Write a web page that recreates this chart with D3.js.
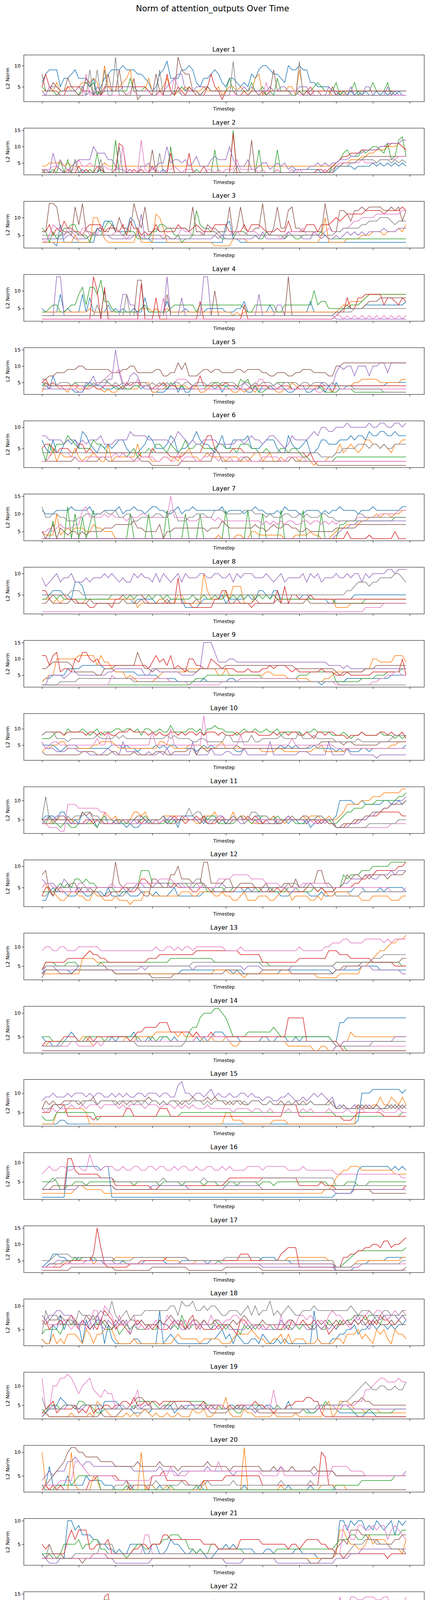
<!DOCTYPE html>
<html>
<head>
<meta charset="utf-8">
<script src="https://cdn.jsdelivr.net/npm/d3@7"></script>
<style>
body { margin: 0; background: #fff; }
text { font-family: "DejaVu Sans", sans-serif; }
</style>
</head>
<body>
<svg id="chart"></svg>
<script>
var width = 1089
var height = 4997

// each series: 100 readings, one hex digit per timestep (0-f = 0..15 L2 norm)
var colors = ["#1f77b4", "#ff7f0e", "#2ca02c", "#d62728", "#9467bd", "#8c564b", "#e377c2", "#7f7f7f"]
var xTicks = [0, 10, 20, 30, 40, 50, 60, 70, 80, 90, 100]
var yStep = [5,5,5,5,5,5,5,5,5,5,5,5,5,5,5,5,5,5,5,5,5,5,2.5,5,5,5]

var layer01 = [
"6899957789 7775735789 99a9998876 4589b77799 a965778986 5776565879 aa98876a99 a996655554 4343434343 3434343433",
"4444644544 5666763a54 4567944447 4445743445 4444544453 4554544478 3454444553 9445444443 3434444444 4444444444",
"5444344444 3565634444 4444744454 4444444454 5443454444 4744444644 5343744433 4444565444 6344463444 6444634444",
"5854433555 5444333555 5555555554 3343843543 5433358542 4443343444 4444444444 4343444444 4444444444 4444444444",
"4355544444 5534354444 4455554444 4444567884 4455554444 4444454544 4454455444 5553333354 3333533355 3333534333",
"8446544754 3476343484 4943372333 3844443c98 8443454444 4443333443 4349444444 4344443335 3444444444 4444444444",
"3333333333 3383333333 3333443333 3333337533 3333333333 3333333333 3633333344 3335333333 3333333333 3333333333",
"3333333333 3339393933 c333333333 3393334433 3333333333 33b3333333 3333333333 b333333333 3333333333 3333334444"]
var layer02 = [
"2222222222 2322223222 2222222222 2223222222 2222222222 2222222222 2222222223 3333332222 3444434444 5454545454",
"4455554544 4444444544 4444444444 4444444444 4444444444 4444444444 4444444444 4444444444 4455666778 8999aaaba9",
"2323262626 2223282222 c222222222 22222a2222 2232222922 22f2222229 2222922222 2222222224 5689777989 aa98b67cd7",
"3222432322 4232243222 3ba2232322 4222282222 8222422222 22e2222222 2222322222 2222233234 5677888999 99aaabbba9",
"3328432245 6666a88866 4332322445 3455a56656 4574446766 6a64446334 5534545343 3334454545 5666778899 99aabbbbcc",
"2222222222 2222224222 2222222222 9222222222 2222222222 2222222c22 2222222222 2222222322 4455556677 7777777777",
"3334464333 6445444433 33a3322c32 3322334323 3322233232 3336333332 3222322232 3222222323 4555555655 5566666777",
"2222222226 2222226222 2a22222222 2282222222 2222222222 2224222222 2222222222 2222222223 4444556666 6566656565"]
var layer03 = [
"3333283333 3333376999 6666a96444 3333333333 3333333333 8944333333 3333333333 3333333333 3333333333 3333333333",
"3333333335 3333aa7433 3333337333 3ba7333333 3333333222 2244443333 3333333333 3333335a33 3334444555 6665666768",
"7636457788 5553655798 6656664444 6688775534 45c8776654 4446665554 4655554554 4555556544 4444444444 4444444444",
"6685769776 6578888677 7685977565 6866666877 6787666888 8666686888 7666766966 6688868889 a9abbbbbcc cccbccccdc",
"4444444554 4445555554 4444455b44 4444444444 4444444545 4444444454 6444444655 5444654544 5456565656 6667666777",
"66eed7665d 8e66577668 6a776ea7d6 6766777777 6d66587766 6d57d76677 e657d77cd7 7666666e86 6ccb9ccdcd dddccdcd9c",
"4358775765 5775658555 6654555455 5555544576 6555677655 5566556665 5555545666 6755655676 6677899aaa abbbbbbbcc",
"5555555666 5545555555 5555555555 5554544555 5555555565 5555555555 5555555555 5555555555 6677777889 99aaa98999"]
var layer04 = [
"5444494544 4948444464 5454454484 4444744445 4444455555 4445574444 4464444444 4447444444 4455555566 6666666667",
"4444444444 4445444444 4444444555 4544544444 4444444444 4434344444 4444444444 4444444444 4566777789 9999999999",
"4456644566 9b6bb9d775 4444444564 4444456666 6646666666 6666654466 6666446666 6666a67755 5555666789 9999999999",
"2222222222 2222ea2b22 2222222c22 2822222222 2227222222 2222262222 2222222222 2222222222 3448558899 9996887687",
"3333ee3333 3333333333 3399663333 3333e33383 3333ee3333 3333333339 3333663333 3333333333 2222222222 2222222222",
"3333333333 3333333a33 333333dd33 3333933333 3333333a33 3333333333 3333333e33 3333333333 4456555567 7788888888",
"2222222222 2222222222 2222222222 2228222222 2222222222 2222222222 2222222222 2222222222 3323232323 2323232323",
"3333333333 3333363333 3339333333 3333333333 3333333333 3333333333 3333333333 3333333333 4444455555 5555555555"]
var layer05 = [
"4437443332 2245444333 4333344344 2222345242 2444444342 4443332242 4443343223 4422334242 5334444444 4444555555",
"2544433244 3334433232 2343333555 2233444444 3342234443 3322323324 4433223354 3333344332 4444455666 6655555566",
"4544444445 4444455654 3343344444 3345354343 3333344554 4333656342 2344555533 3334443222 2333322222 2222222222",
"5645444444 4433433444 4435455444 3445444333 3447444444 5444333444 4433344433 4444444444 4444444444 4444444444",
"3333333333 2255744466 f844787433 3333333333 3333333333 3333354333 3333333333 3333335444 8a9aa7aaa7 aabb8bbbbb",
"6677888999 aa99999998 8899aa8888 8997788b9b 7778998998 8889989999 8877888778 8999888877 aabbbbbbbb bbbbbbbbbb",
"5534443333 4433455678 8954446444 3344445666 5333333333 3333333336 6444333333 3333322333 3333333333 3333333333",
"5444455545 5554545554 5454555554 5454545545 5455545545 5554455454 5554545555 4554555545 4444433333 3332222222"]
var layer06 = [
"7547446767 5986546565 6775444568 7555687455 6797665468 5577778555 6777544865 5674457766 6777878879 8899889888",
"2235243335 3233432262 3333336333 2223323244 5332343333 2333222344 2342232333 2332122233 4645654577 6656546677",
"5264666876 5555766544 4443453445 4665465457 5566555566 5554666554 4544455455 4332222222 3333333333 3333333333",
"5665455544 6645444444 4444444333 5444433334 4444688544 4455544444 4444444444 4434222222 2222222222 2222222222",
"8877776777 6767778666 7777988887 7777767987 6766777766 6667767877 6788765687 777898aa99 aaabaaaaab aabbaabbab",
"2222222223 2222223322 2222223222 1111111122 2222222542 2222233222 2222222232 2222211111 1111111111 1111111111",
"2234444433 2223333333 4343322333 3223322423 3322334323 3322332222 3333322333 3322222222 2222222222 2222222222",
"4444444444 4444444444 4444444444 4444444444 4444444444 4444444444 4444444444 4444443333 4455556665 6656556666"]
var layer07 = [
"baaabbbbcb bbbcaaabbb bcabbcbbab ccbbaabcab bcbbbbbbbc abbbbabbcb baaabacbbb aabbbbabab bcbbbbabbb cbbbbbbbcc",
"5444a45656 6655766555 3333333333 3333333333 3333333343 3334433554 4444443334 4445443334 5667777889 9a9aa9aabb",
"3338333c3a 3937b33333 3333a3333a 3333b3333a 333a333333 b33333b333 a3333b3333 3b3333a333 3778888888 8888889999",
"3333333333 3333333333 3333333333 3333333333 3333333333 3333333333 3333333333 3333333333 3335333334 3333335333",
"3333333333 3333333333 3333333333 3333333333 3333333333 3333333333 3333333333 3333333333 4566778888 8888888888",
"5357365455 4545555666 7777786655 5573556666 6666656668 7666666676 6567667766 5565555555 6666667777 7777777777",
"5565676667 7bc9999a9a 9998999aa9 99999f9999 8889999898 8888888888 7878787887 7887887878 7888889999 99aaaaabbb",
"c99aa99888 99aa9aabaa b99aa88999 9aa99bb888 99aaa99bbb aaaaabbbaa a9a999aa99 a9a999aa99 888888aa99 9999999999"]
var layer08 = [
"5556665548 8744444444 4444434444 4344344442 2223444445 3444445446 6546644444 4554444433 4444455555 5555555555",
"4443434444 3344444444 4444442333 3344333553 3333a64444 6477733355 5555444444 4444444444 2222333333 3333333333",
"4455454444 4444444445 5554545545 4554544444 4544544544 5454545545 4545444444 4444444444 3333333344 4444444444",
"6645555444 3332233332 4455555543 3333333933 3222222446 6333333233 3333637355 4445444444 4444444444 4444444444",
"9789a899a8 8898999a9a 98988a9a99 8a8a989a8a 999aa99aa9 9a8a9aaa99 9a989a8999 9a8a9a8999 a99a9aa8a9 aaaabbabbb",
"3343333343 3334333333 3343333433 3333433333 3343333333 3334333343 3333433333 3343333333 3333333333 3333333333",
"1111111111 1111111111 1111111111 1111111111 1111111111 1111111111 1111111111 1111111111 1111111122 2223333333",
"5555555566 6555555555 5555555555 5555555555 5555555555 5555555555 5555555555 5555555555 5556678887 889999aa98"]
var layer09 = [
"3445555777 7888888777 6666665555 5544444333 3333433333 3443333333 3333333333 3333332333 3334444444 4444455555",
"3455aaaaaa bbbbb8b997 6664543333 3456666666 7777777755 7555555555 5665555444 4443333445 6666666677 aa9999bbb9",
"2222222222 2222222222 2222222222 2222222222 2344455555 5555555555 4444444444 5556666666 3333333444 4555666677",
"bb8bc6776a 9cca9a8888 8888888887 9b9a8b7876 aa8877a987 7776667666 7787888767 6666667666 5556555555 66666666a5",
"2255554566 5555555566 7777777755 7766666655 5567fffc99 9aa9999999 9999999999 9999999988 8878777777 7777777777",
"7789999986 6666655777 888888c977 6777777777 6667777777 8888888888 8888888887 7777777777 6566666677 7888888888",
"2222222222 2222222225 4444444444 4444433333 2222222223 3333444444 4444444444 3333333333 2222222222 3344556655",
"2222233333 4444444444 4444433333 3333333333 3333333333 3333333333 3333333333 3333333333 3222222222 2222222222"]
var layer10 = [
"5555434555 4444444445 5545443444 4545455444 4434545444 4443344444 4444454545 4444544444 3434333443 4444444445",
"3445566444 4444556666 5444444444 4466554444 5555444456 4444444444 3333443333 3333445333 3334444444 4444455666",
"7778998a99 9a989a8999 aa9aa9a8aa 99a99b9999 aa9a8aabaa 99989a99a9 9a99a89999 9899a99998 8898788988 8898887878",
"8999998999 9989989898 8999a99998 9898899898 9989899989 8889899998 8889899899 8898799899 8887888988 8899898897",
"6444333444 3332222343 2263333223 2232422222 2622224222 3322242222 2262222222 3332222262 2224222222 2122222222",
"3222222222 2333322223 3222232222 2333223333 4424434444 4445444444 4444444444 4445556666 6656655555 5566666666",
"6456655555 5555575595 5555555555 95555a5555 5555e55555 5555855555 5555555575 5555555555 4444444444 4444444444",
"8999777677 7777787777 8787777777 7777878777 7667766666 8866666866 7777787777 9777877777 6666667666 6666678888"]
var layer11 = [
"5666577545 4765535555 4443433445 4556455366 6655466645 4565665566 4556445455 4453455455 6aaaa99a99 999aa9aa9a",
"4445566554 4444554765 6455577675 5556666665 5544666755 5575665444 4556554565 5656665565 5679999aaa bbbcccccdd",
"5464434433 4444435644 5544444565 4444545555 5555656644 4445555455 6655655654 4445566554 4567788899 9aaaaaabbc",
"5555555544 4455455444 4454555454 4545556554 5565644455 5555556565 4555445655 5545545544 3334445556 6677777766",
"4565666444 4445554444 5455454655 5545565556 5555545566 5555445555 5544555655 5545444555 3333444556 6778899aab",
"4444555555 5767555444 5555556654 4445444555 5554544556 4455655554 4444445555 5665554544 3344455566 777889999a",
"4433322999 8888887744 4455444444 4545555666 5555555556 5555555545 5555555555 5555455455 3333333333 3333344444",
"5b55444656 6677665555 4454555554 5556555466 8677555545 5565645776 6655455565 5555566555 3333333334 4444444555"]
var layer12 = [
"2245444333 4433444353 3344333444 3433345333 3333444444 4444445444 4444433344 4443334333 4444455544 4454555554",
"5644322344 3322433222 3222122244 3333333344 4334444334 3322342223 3322344423 3332232433 4444333222 3333322233",
"4444565657 7676655555 4444555999 6666666666 5566644555 4455555554 5554444555 4444545444 5587888999 aaaaabbbbb",
"3553544444 4444443334 4455445776 5555556555 5445554444 4445555555 4444545444 4455545444 5555566778 8999999aab",
"7666557644 5445555555 5554556655 5666655655 5555555556 5555544455 5555555445 5566555555 5566777788 7788898999",
"8943555566 4555455555 b655555433 7765588a77 7666bb6666 7755666655 5645556657 5556699665 5568788787 8888788889",
"5665554444 6655555556 5556666666 6677776665 5665655577 7788888777 7666655555 5666666655 5555555555 5555544445",
"3344455555 5554443344 4334455555 5555555666 6677555444 5555544444 4455555666 5555555555 3333333444 4444444444"]
var layer13 = [
"3444444434 4444444444 3333333333 3333333344 4444444444 4434433333 3333344444 4444444443 4444444555 5544444444",
"3333333333 3777766544 3333333333 3333333333 3333333444 4333323333 3333333333 3333322222 2333333556 7899abbccd",
"4666555666 5555556666 6666666666 6666677777 7777777666 6666666666 6655555555 5555555555 6666666666 6666666655",
"4666666777 7789887766 6666666667 7788888888 8899999999 9999888888 6666666666 7777777799 9888777777 6666665555",
"3555444444 5555555544 4444444545 5555555555 5455555555 5555545555 4444444455 5555555555 4445555555 4444444433",
"2444433334 4444444444 3333333333 2222223333 3333333333 4444333333 4444444433 3333333333 4455555666 6666666677",
"9aa99aa999 aaaaaa9999 9999999999 9a99aa9a9a a9aaaaaaaa 9999a99999 9999999999 a999999aab bbccbbbbcc cccbcbcccc",
"4555555555 5555555555 5555555555 5555555555 5666666666 6666666666 5555555555 5555555555 6666666666 7778888888"]
var layer14 = [
"5443344565 4444444445 4555564445 4445545444 4454545666 5555444444 5544555445 4555555554 4889999999 9999999999",
"3344444444 4554344444 4445445555 5666666565 5555445444 5433444444 4444444333 3333223322 3344655555 5555555555",
"5554444444 4455555455 5555555444 5455544444 6779aaabba 9755556666 6667655555 5555555554 3332222222 2222222222",
"3444445555 4445455555 5555456677 7788866666 6565556555 5555555555 5555555999 9944444444 4322222222 2222222222",
"2222222222 2222222222 2222222222 2222222222 2222222222 2222222222 2222222222 2222222222 3344444444 4444445555",
"2222222222 2222222222 2222222222 2222222222 2222222222 2222222222 2222222222 2222222222 2222222222 2222222222",
"3333333344 3333343444 4444444444 4444444444 4455555555 5444444444 4444444444 4444444444 3333333333 3333333333",
"3333334444 4444444444 4444443333 3333333334 4444444444 4444444444 4444444444 4444444444 3333333333 4444444444"]
var layer15 = [
"2222233222 2222222222 2222222222 2222222222 2222222222 2222222222 2222222222 2222222222 2222223aaa bbbbbbbbab",
"2222555666 6652222222 2222222222 2222222222 2222222222 5533322222 2223333222 2222222222 2222227666 7797798797",
"4333555555 5555534444 4444444444 4444444455 5555555555 5555555555 5555555555 5555555555 4444444444 4444444455",
"5557777444 4444344444 4446644444 4466644444 4444444444 4444444444 4444447777 4444444444 4433345555 5554444444",
"899a999a9a aa9a9aa99a 9a9a99aa9a aa9aa99cda a9aa9ab9a9 9a99aa9a99 8998899a98 8989a9a989 6766676767 6766767676",
"6878778888 7888978888 8787888889 8878788878 8988898988 7878877888 7787787778 7878777787 6676667676 6766676767",
"6566566676 6767776777 7676777767 7767776767 6766676666 6656666566 5565555655 5656555565 5556555655 5565555655",
"6667767788 8788878888 7888878787 8878788788 7888787888 8788787888 7787777877 7778777778 6676666766 6666767676"]
var layer16 = [
"1111111999 9999998991 1111111111 1111111111 1111111111 1111111111 1111111111 1111111111 2222248999 9999989898",
"2222222223 4433333222 2222222222 2222222222 2222222222 2222222222 2222222222 2222222334 6788999888 8888887777",
"5556533445 5545555555 5555545555 5545555545 5555455544 4554555554 5554555555 5555555544 4445554445 5555555555",
"3333333bb8 7777776666 4444444444 3344444444 4444444444 5666666666 6666666666 4444445444 3333333333 3333333334",
"3333333333 4444444444 3333333333 4444444444 3333333333 4444444444 3333333333 3333333333 2222233333 3333333333",
"3334444444 4444444444 3333333333 3333333333 3333333333 3333333333 3333333333 3333333333 3333333333 2222222222",
"7898899889 988c988999 8898899889 9899889899 8898899889 8988889999 8999999888 8988888888 7777777777 7777777766",
"3455666666 6666666666 5555555555 5556555555 5555655555 5555555555 6666666666 6666666666 4444444444 4444444444"]
var layer17 = [
"3457766555 6666555444 4454444455 5555444455 5555545555 5555555555 6666555544 4444444444 2222233445 5555666666",
"3344444555 5666455555 6666666666 6666555544 4455555555 5555555555 5555555666 6666666655 3333345555 5555555566",
"3344445556 5666655555 5554444444 4444444444 4444444454 4444444444 4444444444 4444444444 3345678888 8888888889",
"3333334455 55557f9433 3333444555 5555666666 5555555555 5555777555 5555578999 3333333333 3366778899 aa9bb9aabc",
"3344555544 4455555555 4444444444 4444444444 4444444444 4444444444 3333333333 3333333333 2222222222 2222222222",
"2222222233 3333333333 2222222222 3333333333 2222222222 3333333333 2222222222 2222222222 2222222222 2222222223",
"3333444444 4444444444 4444444444 4444444444 4444444444 4444444444 4444444444 4444444444 3333333444 4444444444",
"5556777766 6666666666 5555566666 6666666666 5555555555 6666666666 5555555555 5555555555 3333344444 4444444455"]
var layer18 = [
"3226585776 6275677263 2222233222 2292343222 2222223345 3424322332 4322323222 2222932223 3445564556 6566565667",
"3224232444 3254244555 3222232222 2222223433 3332333332 2234444543 3223342423 3322232222 3324445343 2545325443",
"4555546666 6665667655 6456565556 5576656586 5666665766 5655465656 6565555656 5666565576 5767788878 8768788788",
"8756676787 5765657987 5665467656 5655567665 7856555565 6654776565 6566556576 6766765645 6676676786 7687766787",
"8788998886 6767586576 6767466765 6676657655 6665765656 6555556566 5555576556 6655565656 5667678665 7878888787",
"7677787767 6687866765 7676776766 6676787675 6776766776 6676787666 7666666776 6665676766 7667676767 6766676766",
"6766667656 5756996a98 5866785655 6755876767 5766668676 7788767665 6566585766 8878767689 8876587889 8998789898",
"4978866776 988878988b 8789788899 99999aa8ba ab99a9aa98 899989a8a8 99b8989a98 8999a99999 9999a98999 8889988899"]
var layer19 = [
"2344576554 4555553666 6544433343 4445453454 5544455454 4554554545 4554444644 4443344444 4333332233 3222222222",
"3322222232 2223265432 2223232343 2322322322 2433422354 7322243322 2223222223 2222222562 3666544434 4433333333",
"4355545554 6655433444 4444546666 6545566666 6666655554 4443355555 5444544444 4433344655 4444433334 3333334444",
"3456344445 3435344554 5566575565 6656666666 6555645555 4545555565 5443444556 6677663222 2222222222 2222222222",
"3345444555 4455555444 4554445455 4444444445 5555544555 4444454434 4544444444 4444445555 5555444444 4444444444",
"2322222222 2222223222 2344567766 4444556454 4445443333 3445444443 3333333333 3444444444 4455566766 5555555555",
"c44aaccdca 8abc987988 4444569444 4445444444 4444444455 4444455544 4449444444 4444444555 4455556699 abccbbbcbb",
"7444445554 4555555444 4444454444 4444444444 4444455444 4444444444 4444444444 4444455555 5566789aba 99aa99a99b"]
var layer20 = [
"3373333533 3354444333 2222322222 2232222222 2223222222 2222232222 2222222322 2223222222 2222222222 2222222222",
"a3222222a3 2222542222 2222222a23 3222322222 2222422222 22222b2222 2222232222 2222223333 3332222222 2222222222",
"3222333334 5555552222 2223222222 2222232222 2232222222 2222222222 2222222222 2222222222 3333333444 4444445555",
"2323232222 2224455555 5444233332 5556444444 3333444444 5555555555 3333333333 333333a933 2222222222 2222222222",
"4565666889 8788777777 7777766666 6676666566 6666676666 6656666666 6666676666 6666566666 5555555555 5555555556",
"3345678abb aa99998888 7777778777 7787777677 7777787777 7677777777 6667666676 6666766666 5555555555 5555555555",
"3333344448 8765555555 4444444444 5555575555 6666666686 6666666666 5555575555 5555555557 7777666655 5555555555",
"2222222222 2222222222 3334333333 3433333343 3333343333 3343333333 3333343333 3334333333 2222222222 2222222222"]
var layer21 = [
"3222222aa8 9777665544 3433555533 5533465543 3434322344 5454444433 3443333334 4333322222 3aa8a9aa89 8a989a7a9a",
"2222222222 2222222222 2222222222 2222222222 2222222222 2222222222 2222222222 2222222222 3886554457 5666544436",
"3332235555 6455664433 3332345544 5556677766 4434335544 4444433333 3333444444 4444444444 5666776677 7777777788",
"5453333686 8884455563 3333344554 5557766666 6666555544 4444666666 5555555455 4566665544 3323333333 3333233333",
"2211122222 2222222222 1111111111 2222222222 2222222222 1111122222 2222111111 1111111111 2222333444 4444444444",
"2233332222 2122333322 2222222222 2222222222 2222222222 2222222222 2222222222 2221112222 4565888776 6655556677",
"2222222222 2222333333 3333333377 3333333333 3333333333 3333333333 3333333333 3333333333 3399669988 9899689876",
"3253222223 3333335555 3333333333 3333333333 3333333333 3333333333 3333333333 3333333333 3333455566 6555544443"]
var layer22 = [
"1345422222 1111111111 3333433333 3323443333 3333343333 4433333333 3333333444 5556777633 3332222222 2222222222",
"1122232354 3333355333 3333333633 3333333333 3333343333 3338883333 3333233333 3333333333 3333345555 5666677777",
"1213322222 2222222dd3 3334443333 3333333233 3333342222 3322233333 3332232323 3352333333 4444444444 4444444444",
"1192244242 2222222ef4 3333222232 3333333324 2222223332 2222222222 2232222242 2222222212 2223333322 2221111111",
"3322222222 2222222232 3332222222 3332332222 2222222222 2222233222 2233222222 2222222222 3232322222 2222222222",
"3344444455 5455443334 4444434344 4444444444 4444434343 3333333333 3333333333 3334333333 4456666677 7677777777",
"3333336c75 3333335993 8888776565 4444444444 4444445dc4 4444444444 4444445c44 4444444444 4e99eeddee eddee9dcbe",
"2333333222 2223333555 4444444444 4444444444 4444444444 4444444444 4444444444 4444444444 4469999aaa aaaabbbbaa"]
var layer23 = [
"1222222222 2211711222 2222222222 2222222222 2222222222 2222222222 2222222222 2222222222 2223222222 2222222222",
"2454333343 3323333333 3336333333 3444444444 4445555333 3333333333 3333355333 3333333333 3333333333 3333333333",
"1221111111 1111111111 1111111111 1111111111 1111111111 1111111111 1111111111 1111111111 1111111111 1111111111",
"2232212258 8222222222 1111111111 1111111111 1111111111 1111111111 1111116611 1111111111 1222222222 2223333444",
"2333222322 2222222222 2222222222 2222222222 2222222222 2222222222 2222222222 2222222222 2222222222 2222222222",
"2242222223 2222222222 2222222222 2222222222 2222222222 2222222222 2222222222 2222222222 2222222222 2222222222",
"3322222234 3334333333 3333333333 3333333333 3333333333 3333334333 3333333333 3333333333 3333333333 3333333444",
"3333333333 3344333333 3333333333 3333333333 3333333333 3333333333 3333333333 3333333333 3333333333 3333333333"]
var layer24 = [
"4544456788 6554433656 4546555555 4544433666 5555555556 6555543345 5654544444 4333333333 3999999999 9999999999",
"3334466655 5557666776 6667755555 6666667767 6655555455 4555556655 5544555555 4444444455 4456554456 6666677778",
"2212111111 1111111111 1111111111 1111111111 1111111111 1111111111 1111111111 1111111111 1111111111 1111111111",
"3344333333 3343334333 3333355333 3333333333 3444433344 4444444444 4444434444 3334444433 3344344444 4445445444",
"2222222222 2222222222 2222222222 2c22222222 2222222222 2222222222 2222222222 2222222222 2222223332 2222222332",
"4343333333 3333322222 2233333333 3222344443 3334454444 4444344444 4443444444 4444444433 3445544555 4544555544",
"1111111111 1111111111 1111111111 1111111111 1111111111 1111111111 1111111111 1111111111 2222222222 6555544444",
"2222222222 2222222222 2222222222 2222222222 2222222222 2222222222 2222222222 2222222222 2222222222 2222222222"]
var layer25 = [
"2223344444 4444444443 3333344444 4444455555 4444444444 4444444444 3333333333 3333322222 2223333344 4444444444",
"3344445555 4444444455 5545555666 6666665555 5555566666 6655555555 6666655555 5555556666 6555555666 6666666666",
"6544444445 5556677666 6665555544 4444333333 4444444433 3333334444 4444444444 4444444444 6666666667 7777777777",
"5455555555 5555667666 6666667555 5559855555 5555555555 6665555577 7777666555 5556666666 6777777777 7777777778",
"4555778889 9877776666 6666666666 9a99776667 7777777777 7777888889 9997777777 7777777777 8899aaaaaa aaaaaaaaaa",
"2222222222 2222222222 2222222222 2222222222 2222222222 2222222222 2222222222 2222222222 3333333333 3333333333",
"2222222222 2222222222 2222222222 2222222222 2222222222 2222222222 2222222222 2222222222 2222333333 3333333333",
"1222222222 2222222222 2222222222 2222222222 2222222222 2222222222 2222222222 2222222222 2222333333 3333333333"]
var layer26 = [
"1111111111 1b22222222 2222222222 2222222222 2222222222 2222222222 2222222222 2222222222 2222222222 2222222222",
"2211232222 2293222222 2222222222 2222222222 2222222222 2222222222 2222222222 2222222222 2222222222 2222222222",
"2233322222 2233322222 2222222222 2222222222 2222222222 2222222222 2222222222 2222222222 2222222222 2222222222",
"1111111111 1111171222 2228222222 2222222222 2222222222 2222222222 2222222222 2222222222 2222222222 2222222222",
"3435443333 3223333333 3333333333 4444444444 4444444444 4444444444 4444444444 4444444444 4444444444 4444444444",
"2221111222 2222222222 2222222222 2222222222 2222222222 2222222222 2222222222 2222222222 2222222222 2222222222",
"5644445677 6656767676 5555555555 6666666666 6666666666 6666666666 6666666666 6666666666 6666666666 6666666666",
"5767866698 8876888875 7777777777 8888888888 8888888888 8888888888 8888888888 8888888888 8888888888 8888888888"]

var layers = [layer01, layer02, layer03, layer04, layer05, layer06, layer07, layer08, layer09, layer10,
  layer11, layer12, layer13, layer14, layer15, layer16, layer17, layer18, layer19, layer20,
  layer21, layer22, layer23, layer24, layer25, layer26]

function decode(s) {
  return s.replace(/\s/g, "").split("").map(c => parseInt(c, 16))
}

var left = 61, right = 1087
var top0 = 140.7, pitch = 187.34, axH = 119.6

const svg = d3.select("#chart")
  .attr("width", width)
  .attr("height", height)

svg.append("text")
  .attr("x", width/2)
  .attr("y", 29)
  .attr("text-anchor", "middle")
  .attr("font-size", 21)
  .text("Norm of attention_outputs Over Time")

x = d3.scaleLinear()
    .domain([-4.95, 103.95])
    .range([left, right])

layers.forEach((layer, i) => {
  var series = layer.map(decode)
  var top = top0 + i*pitch
  var all = series.flat()
  var lo = d3.min(all), hi = d3.max(all), pad = (hi - lo)*0.05

  var y = d3.scaleLinear()
      .domain([lo - pad, hi + pad])
      .range([top + axH, top])

  var g = svg.append("g")

  g.append("text")
    .attr("x", (left + right)/2)
    .attr("y", top - 9)
    .attr("text-anchor", "middle")
    .attr("font-size", 16)
    .text("Layer " + (i + 1))

  var line = d3.line()
    .x((d, j) => x(j))
    .y(d => y(d))

  g.selectAll("path.s")
    .data(series)
    .enter()
    .append("path")
      .attr("class", "s")
      .attr("d", line)
      .attr("fill", "none")
      .attr("stroke", (d, k) => colors[k])
      .attr("stroke-width", 1.5)

  var step = yStep[i]
  var yt = d3.range(Math.ceil((lo - pad)/step)*step, hi + pad, step)
  var yAxis = d3.axisLeft(y)
    .tickValues(yt)
    .tickSize(5)
    .tickFormat(step < 5 ? d3.format(".1f") : d3.format("d"))
  g.append("g")
    .attr("transform", "translate(" + left + ",0)")
    .call(yAxis)
    .call(a => a.select(".domain").remove())
    .selectAll("text").attr("font-size", 13).attr("font-family", "DejaVu Sans")

  var xAxis = d3.axisBottom(x)
    .tickValues(xTicks)
    .tickSize(5)
    .tickFormat(i == layers.length - 1 ? d3.format("d") : "")
  g.append("g")
    .attr("transform", "translate(0," + (top + axH) + ")")
    .call(xAxis)
    .call(a => a.select(".domain").remove())
    .selectAll("text").attr("font-size", 13).attr("font-family", "DejaVu Sans")

  g.append("rect")
    .attr("x", left).attr("y", top)
    .attr("width", right - left).attr("height", axH)
    .attr("fill", "none").attr("stroke", "black").attr("stroke-width", 1)

  g.append("text")
    .attr("x", (left + right)/2)
    .attr("y", top + axH + (i == layers.length - 1 ? 40 : 23))
    .attr("text-anchor", "middle")
    .attr("font-size", 12)
    .text("Timestep")

  g.append("text")
    .attr("transform", "translate(24," + (top + axH/2) + ") rotate(-90)")
    .attr("text-anchor", "middle")
    .attr("font-size", 13)
    .text("L2 Norm")
})
</script>
</body>
</html>
